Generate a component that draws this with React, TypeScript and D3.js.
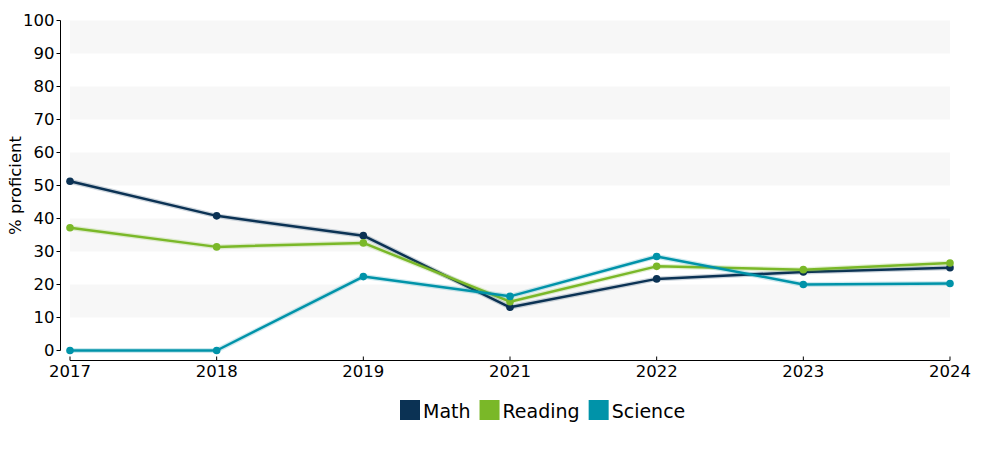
import React from "react";
import * as d3 from "d3";

const years = ["2017", "2018", "2019", "2021", "2022", "2023", "2024"];
const mathValues = [51.3, 40.8, 34.8, 13.1, 21.7, 23.8, 25.1];
const readingValues = [37.2, 31.4, 32.6, 14.8, 25.5, 24.5, 26.5];
const scienceValues = [0, 0, 22.4, 16.4, 28.5, 20.0, 20.3];
const seriesNames = ["Math", "Reading", "Science"];
const seriesColors = ["#0b3254", "#7ab828", "#0093a9"];
const yTicks = [0, 10, 20, 30, 40, 50, 60, 70, 80, 90, 100];

const W = 1000;
const H = 450;
const FONT = "'DejaVu Sans', Verdana, sans-serif";

function measure(text: string, font: string): number {
  if (typeof document === "undefined") return text.length * 10;
  const c = document.createElement("canvas");
  const ctx = c.getContext("2d");
  if (!ctx) return text.length * 10;
  ctx.font = font;
  return ctx.measureText(text).width;
}

export default function App() {
  const x = d3.scalePoint<string>().domain(years).range([70, 950]);
  const y = d3.scaleLinear().domain([0, 100]).range([350.5, 20.5]);
  const series = [mathValues, readingValues, scienceValues];
  const line = d3
    .line<number>()
    .x((_, i) => x(years[i]) as number)
    .y((d) => y(d));

  const bands = [10, 30, 50, 70, 90];

  const legendFont = `19px ${FONT}`;
  let lx = 400;
  const legendItems = seriesNames.map((name, i) => {
    const item = { name, color: seriesColors[i], x: lx };
    lx += 24 + measure(name, legendFont) + 8;
    return item;
  });

  const xAxisY = 360.5;
  const yAxisX = 60.5;
  const tickFs = 16.5;

  return (
    <div style={{ position: "fixed", left: 0, top: 0 }}>
      <svg width={W} height={H} style={{ display: "block", background: "#fff" }} fontFamily={FONT}>
        {bands.map((b) => (
          <rect
            key={b}
            x={x(years[0])}
            width={(x(years[years.length - 1]) as number) - (x(years[0]) as number)}
            y={y(b + 10)}
            height={y(b) - y(b + 10)}
            fill="#f7f7f7"
          />
        ))}

        <line x1={yAxisX} x2={yAxisX} y1={y(100)} y2={y(0)} stroke="#000" strokeWidth={1} />
        {yTicks.map((t) => (
          <g key={t}>
            <line x1={yAxisX - 4} x2={yAxisX} y1={y(t)} y2={y(t)} stroke="#000" />
            <text x={yAxisX - 6} y={y(t)} dy="0.36em" textAnchor="end" fontSize={tickFs} fill="#000">
              {t}
            </text>
          </g>
        ))}
        <text
          transform={`translate(21,${(y(0) + y(100)) / 2}) rotate(-90)`}
          textAnchor="middle"
          fontSize={16.5}
          fill="#000"
        >
          % proficient
        </text>

        <line x1={x(years[0])} x2={x(years[years.length - 1])} y1={xAxisY} y2={xAxisY} stroke="#000" />
        {years.map((yr) => (
          <g key={yr}>
            <line x1={x(yr)} x2={x(yr)} y1={xAxisY - 4} y2={xAxisY} stroke="#000" />
            <text x={x(yr)} y={376.5} textAnchor="middle" fontSize={tickFs} fill="#000">
              {yr}
            </text>
          </g>
        ))}

        {series.map((vals, si) => (
          <g key={si}>
            <path d={line(vals) || ""} fill="none" stroke={seriesColors[si]} strokeOpacity={0.2} strokeWidth={5} strokeLinejoin="round" />
            <path d={line(vals) || ""} fill="none" stroke={seriesColors[si]} strokeWidth={2.5} strokeLinejoin="round" />
            {vals.map((v, i) => (
              <circle key={i} cx={x(years[i])} cy={y(v)} r={3.8} fill={seriesColors[si]} />
            ))}
          </g>
        ))}

        {legendItems.map((it) => (
          <g key={it.name}>
            <rect x={it.x} y={400} width={20} height={20} fill={it.color} />
            <text x={it.x + 23} y={418} fontSize={19} fill="#000">
              {it.name}
            </text>
          </g>
        ))}
      </svg>
    </div>
  );
}
